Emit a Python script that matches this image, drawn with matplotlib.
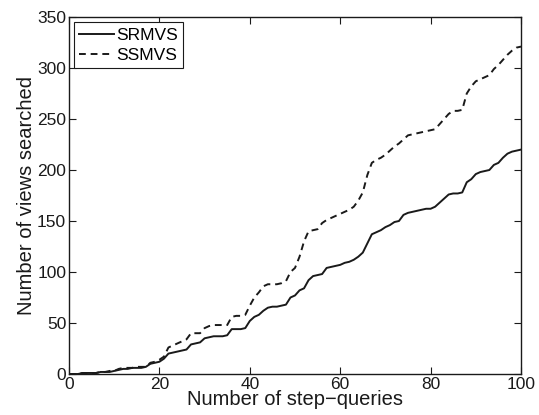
import matplotlib
matplotlib.use("Agg")
import matplotlib.pyplot as plt

plt.rcParams['font.family'] = ['Liberation Sans', 'DejaVu Sans']

steps = list(range(0, 101))
srmvs = [0, 0, 0, 1, 1, 1, 1, 2, 2, 2,
         3, 4, 5, 5, 6, 6, 6, 7, 10, 11,
         12, 15, 20, 21, 22, 23, 24, 29, 30, 31,
         35, 36, 37, 37, 37, 38, 44, 44, 44, 45,
         52, 56, 58, 62, 65, 66, 66, 67, 68, 75,
         77, 82, 84, 92, 96, 97, 98, 104, 105, 106,
         107, 109, 110, 112, 115, 119, 128, 137, 139, 141,
         144, 146, 149, 150, 156, 158, 159, 160, 161, 162,
         162, 164, 168, 172, 176, 177, 177, 178, 188, 191,
         196, 198, 199, 200, 205, 207, 212, 216, 218, 219,
         220]
ssmvs = [0, 0, 0, 1, 1, 1, 1, 2, 2, 3,
         3, 5, 6, 6, 6, 7, 7, 7, 11, 12,
         14, 17, 26, 28, 30, 32, 34, 40, 40, 40,
         45, 47, 48, 48, 48, 48, 56, 57, 57, 58,
         67, 75, 80, 86, 88, 88, 88, 89, 91, 100,
         104, 115, 130, 140, 141, 142, 148, 151, 153, 155,
         157, 159, 161, 164, 170, 178, 195, 207, 210, 212,
         215, 219, 223, 226, 230, 234, 235, 236, 237, 238,
         239, 240, 245, 250, 255, 258, 258, 259, 275, 282,
         287, 289, 291, 293, 299, 303, 308, 313, 317, 320,
         321]
x_ticks = [0, 20, 40, 60, 80, 100]
y_ticks = [0, 50, 100, 150, 200, 250, 300, 350]

fig = plt.figure(figsize=(5.39, 4.15), dpi=100)
ax = fig.add_axes([0.128, 0.0988, 0.8386, 0.8602])
ax.plot(steps, srmvs, color='#1a1a1a', lw=1.4, ls='-', label='SRMVS')
ax.plot(steps, ssmvs, color='#1a1a1a', lw=1.4, ls=(0, (3.5, 2.5)), label='SSMVS')
ax.set_xlim(0, 100)
ax.set_ylim(0, 350)
ax.set_xticks(x_ticks)
ax.set_yticks(y_ticks)
ax.tick_params(direction='in', top=True, right=True, length=5, width=0.8,
               labelsize=12.5, colors='#1a1a1a', pad=2)
for s in ax.spines.values():
    s.set_linewidth(1.0)
    s.set_color('#1a1a1a')
ax.set_xlabel('Number of step\u2212queries', fontsize=14.5, color='#1a1a1a', labelpad=-1)
ax.set_ylabel('Number of views searched', fontsize=14.5, color='#1a1a1a', labelpad=1)
leg = ax.legend(loc='upper left', fontsize=12.5, frameon=True, fancybox=False,
                edgecolor='#1a1a1a', borderpad=0.3, labelspacing=0.28,
                handlelength=2.0, handletextpad=0.1, borderaxespad=0.3)
leg.get_frame().set_linewidth(0.8)
leg.get_frame().set_alpha(1)
fig.savefig('out.png', dpi=100)
